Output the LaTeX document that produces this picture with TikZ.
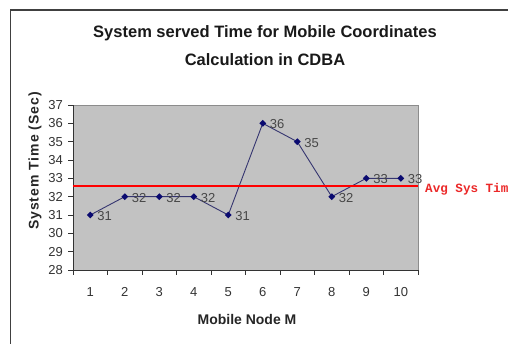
\documentclass[tikz,border=0pt]{standalone}
\usepackage{fontspec}
\usetikzlibrary{shapes.geometric}
\setmainfont{Liberation Sans}
\newfontfamily\avgmono{Liberation Mono}
\definecolor{framegray}{HTML}{404040}
\definecolor{plotgray}{HTML}{C2C2C2}
\definecolor{avgred}{RGB}{235,40,40}
\definecolor{serieline}{HTML}{353570}
\definecolor{markblue}{HTML}{0A0A70}
\begin{document}
\begin{tikzpicture}[x=1pt,y=-1pt,
  ticklab/.style={font=\fontsize{13}{13}\selectfont, text=black!80, inner sep=0pt},
  datalab/.style={font=\fontsize{13}{13}\selectfont, text=black!72, inner sep=0pt, anchor=west},
  datapt/.style={diamond, fill=markblue, inner sep=0pt, minimum size=7pt},
  titlefont/.style={font=\bfseries\fontsize{16.5}{18}\selectfont, text=black!90, inner sep=0pt},
  axtitle/.style={font=\bfseries\fontsize{14}{14}\selectfont, text=black!85, inner sep=0pt},
  avgline/.style={draw=red, line width=2pt}
]
\useasboundingbox (0,0) rectangle (508,343);
% outer frame
\draw[line width=1.5pt, framegray] (10.5,360) -- (10.5,10) -- (530,10);
% titles
\node[titlefont] (t1) at (265,33) {System served Time for Mobile Coordinates};
\node[titlefont] (t2) at (265,60) {Calculation in CDBA};
% plot area
\fill[plotgray] (73,105) rectangle (418,270);
\draw[black!45, line width=0.6pt] (73,105) rectangle (418,270);
\draw[black!80, line width=0.9pt] (73,105) -- (73,270) -- (418,270);
% y ticks and labels
\foreach \v in {28,...,37}{
  \pgfmathsetmacro{\yy}{105+(37-\v)*18.333}
  \draw[black!80, line width=0.8pt] (68,\yy) -- (73,\yy);
  \node[ticklab, anchor=east] (yl\v) at (63,\yy) {\v};
}
% x ticks and labels
\foreach \i in {0,...,10}{
  \draw[black!80, line width=0.8pt] ({73+34.5*\i},270) -- ({73+34.5*\i},275);
}
\foreach \i in {1,...,10}{
  \node[ticklab] (xl\i) at ({73+34.5*(\i-0.5)},292) {\i};
}
% axis titles
\node[axtitle, rotate=90] (ytitle) at (35,161) {\addfontfeatures{LetterSpace=7}System Time (Sec)};
\node[axtitle] (xtitle) at (247,319) {Mobile Node M};
% data
\foreach \v [count=\i] in {31,32,32,32,31,36,35,32,33,33}{
  \coordinate (p\i) at ({73+34.5*(\i-0.5)},{105+(37-\v)*18.333});
}
\draw[serieline, line width=0.9pt] (p1) -- (p2) -- (p3) -- (p4) -- (p5) -- (p6) -- (p7) -- (p8) -- (p9) -- (p10);
% average line
\coordinate (avgL) at (73,185.5);
\coordinate (avgR) at (418,185.5);
\draw[avgline] (avgL) -- (avgR);
\node[anchor=west, inner sep=0pt, text=avgred, font=\avgmono\bfseries\fontsize{12.6}{12.6}\selectfont] (avglab) at (425,189) {Avg Sys Time};
\foreach \v [count=\i] in {31,32,32,32,31,36,35,32,33,33}{
  \node[datapt] (m\i) at (p\i) {};
  \node[datalab] (d\i) at ([xshift=7pt,yshift=-1pt]p\i) {\v};
}
\end{tikzpicture}
\end{document}
